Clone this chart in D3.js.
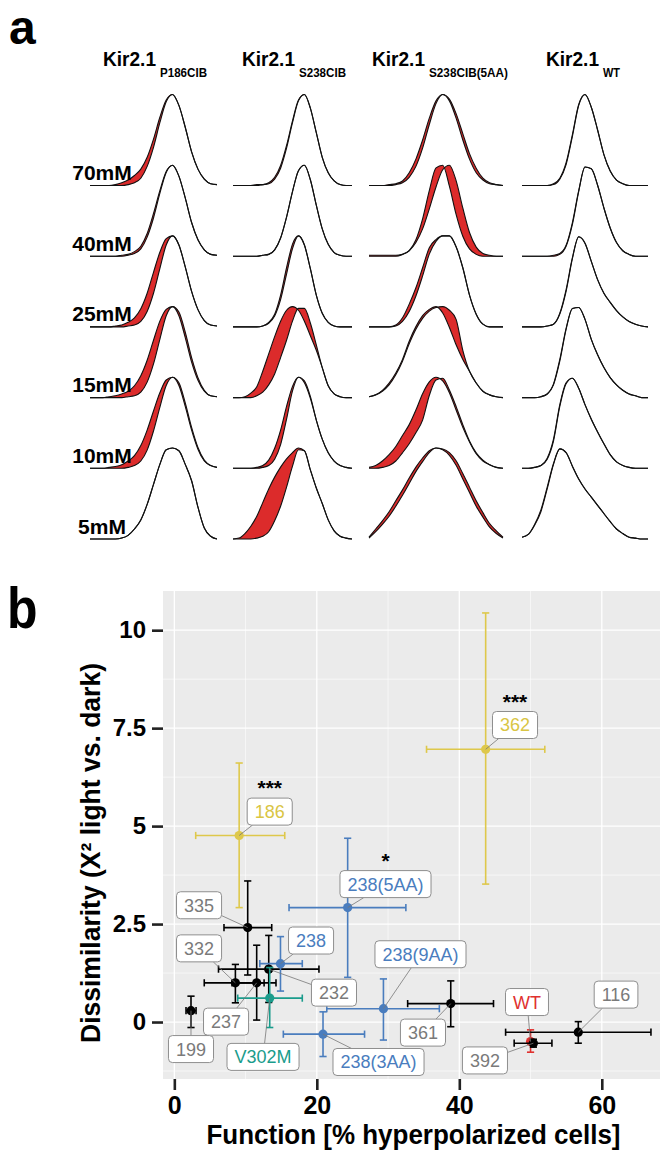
<!DOCTYPE html>
<html><head><meta charset="utf-8">
<script src="https://cdn.jsdelivr.net/npm/d3@7"></script>
<style>body{margin:0;background:#fff}svg{display:block}</style>
</head><body>
<svg id="chart" width="662" height="1156"></svg>
<script>
// ---------------- DATA: panel a (ridgeline densities, % of max height) ----------------
const constructs = ["P186CIB", "S238CIB", "S238CIB(5AA)", "WT"];
const concentrations = ["70mM", "40mM", "25mM", "15mM", "10mM", "5mM"];
const densityGrid = [0,1,2,3,4,5,6,7,8,9,10,11,12,13,14,15,16,17,18,19,20];

const p186Dark = [
  [0,0,0,0,0,0,1,3,8,21,42,69,92,100,88,64,37,18,7,2,1],
  [0,0,0,0,0,0,1,3,8,21,42,69,92,100,88,64,37,18,7,2,1],
  [0,0,0,0,0,0,1,2,6,17,37,64,90,100,90,66,39,19,7,2,1],
  [0,0,0,0,0,0,1,2,6,17,37,64,90,100,90,66,39,19,7,2,1],
  [0,0,0,0,0,0,1,3,8,20,41,67,91,100,91,68,42,21,8,3,1],
  [0,0,0,0,0,1,4,11,21,38,60,82,98,100,97,82,64,35,12,3,0]
];
const p186Light = [
  [0,0,0,0,1,3,6,11,18,31,51,75,94,100,88,64,37,18,7,2,1],
  [0,0,0,0,0,1,2,5,11,25,47,72,93,100,88,64,37,18,7,2,1],
  [0,0,0,0,1,2,5,10,20,37,60,82,97,100,90,66,39,19,7,2,1],
  [0,0,0,1,2,4,7,13,24,41,63,84,97,100,94,72,44,22,8,2,1],
  [0,0,0,1,2,4,8,14,25,42,63,83,97,100,94,72,45,23,9,3,1],
  [0,0,0,0,0,1,4,11,21,38,60,82,98,100,97,82,64,35,12,3,0]
];
const s238Dark = [
  [0,0,0,0,0,1,2,7,19,41,69,93,100,85,58,31,14,5,1,0,0],
  [0,0,0,0,0,1,2,7,20,43,71,94,100,84,56,30,13,4,1,0,0],
  [0,0,0,0,0,1,4,12,30,58,86,100,90,64,35,15,5,1,0,0,0],
  [0,0,0,0,2,6,14,26,44,63,84,98,98,82,58,33,13,4,1,0,0],
  [0,0,0,0,0,1,3,10,26,54,85,100,94,77,53,32,17,8,3,1,0],
  [0,0,0,0,1,3,8,20,36,57,80,98,97,76,56,39,21,9,3,1,0]
];
const s238Light = [
  [0,0,0,0,1,1,3,9,22,44,71,94,100,85,58,31,14,5,1,0,0],
  [0,0,0,0,0,1,2,7,20,43,71,94,100,84,56,30,13,4,1,0,0],
  [0,0,0,0,0,1,5,14,35,65,91,100,90,64,35,15,5,1,0,0,0],
  [0,0,1,5,12,29,48,67,84,96,100,96,84,68,52,33,13,4,1,0,0],
  [0,0,0,0,1,3,9,22,42,68,90,100,96,79,53,32,17,8,3,1,0],
  [0,1,6,14,25,40,55,68,79,88,95,100,97,76,56,39,21,9,3,1,0]
];
const s238aaDark = [
  [0,0,0,0,1,3,9,21,41,67,90,100,93,74,50,29,14,6,2,1,0],
  [1,1,1,1,1,2,6,18,41,72,97,100,77,46,22,8,2,0,0,0,0],
  [0,0,0,0,1,6,17,34,56,80,94,100,100,88,65,35,14,3,0,0,0],
  [1,3,8,16,27,42,62,78,90,97,100,93,77,58,42,29,16,7,3,1,0],
  [0,0,1,3,8,17,27,39,53,80,97,99,86,68,48,30,17,9,4,1,0],
  [1,8,16,25,36,48,61,74,85,95,100,98,92,81,66,51,36,24,13,6,1]
];
const s238aaLight = [
  [0,0,0,1,2,5,14,29,50,74,93,100,95,79,57,35,19,8,3,1,0],
  [0,0,0,0,0,2,6,15,30,52,76,95,100,83,53,26,10,3,1,0,0],
  [0,0,0,0,2,10,25,43,65,87,96,100,100,88,65,35,14,3,0,0,0],
  [1,3,7,14,25,40,59,75,87,95,99,100,96,86,52,29,16,7,3,1,0],
  [1,3,8,15,24,36,48,64,82,95,100,96,83,64,45,29,16,8,4,1,0],
  [2,11,20,30,42,54,67,79,89,97,100,99,95,86,72,57,42,29,17,9,2]
];
const wtDark = [
  [0,0,0,0,0,1,7,23,54,88,100,86,61,34,16,6,2,0,0,0,0],
  [0,0,0,0,0,0,2,11,35,71,98,96,78,53,31,15,6,2,0,0,0],
  [0,0,0,0,1,3,14,39,75,99,92,72,52,37,27,18,11,6,3,1,0],
  [0,0,0,1,4,14,40,75,98,99,86,64,47,33,22,14,8,4,2,0,0],
  [0,0,1,3,10,30,68,93,99,88,70,54,40,27,15,7,3,1,0,0,0],
  [2,5,15,30,55,82,99,95,80,66,55,46,37,28,19,11,6,2,1,0,0]
];
const wtLight = [
  [0,0,0,0,0,2,8,25,56,89,100,86,61,34,16,6,2,0,0,0,0],
  [0,0,0,0,0,1,3,12,37,72,98,96,78,53,31,15,6,2,0,0,0],
  [0,0,0,0,1,3,15,41,76,99,92,72,52,37,27,18,11,6,3,1,0],
  [0,0,0,1,4,15,42,76,98,99,86,64,47,33,22,14,8,4,2,0,0],
  [0,0,1,3,11,32,70,94,99,88,70,54,40,27,15,7,3,1,0,0,0],
  [2,5,16,32,57,83,99,95,80,66,55,46,37,28,19,11,6,2,1,0,0]
];

// ---------------- DATA: panel b ----------------
const mutants  = ["186","362","335","232","238","332","237","V302M","199","238(5AA)","238(9AA)","238(3AA)","361","WT","392","116"];
const mutantGroup = ["sig","sig","other","other","s238","other","other","v302m","other","s238","s238","s238","other","wt","other","other"];
const funcMean = [9.1, 43.7, 10.3, 13.25, 14.9, 8.57, 11.56, 13.39, 2.34, 24.33, 29.35, 20.87, 38.8, 50.0, 50.4, 56.7];
const funcLow  = [3.0, 35.4, 6.97, 6.2, 12.0, 4.2, 8.1, 8.9, 1.64, 16.1, 21.4, 15.3, 32.75, null, 47.7, 46.5];
const funcHigh = [15.5, 52.0, 13.67, 20.3, 17.96, 12.6, 14.27, 17.96, 3.05, 32.5, 37.2, 26.7, 44.8, null, 53.0, 66.9];
const disMean  = [4.76, 6.96, 2.41, 1.35, 1.49, 1.0, 1.0, 0.61, 0.29, 2.92, 0.34, -0.31, 0.47, -0.5, -0.54, -0.26];
const disLow   = [2.92, 3.52, 1.2, 0.5, 0.79, 0.49, 0.05, -0.14, -0.14, 1.14, -0.46, -0.88, -0.12, -0.77, -0.64, -0.54];
const disHigh  = [6.61, 10.44, 3.6, 2.21, 2.18, 1.47, 1.96, 1.39, 0.66, 4.69, 1.1, 0.26, 1.05, -0.2, -0.44, 0.01];
const significance = ["***","***","","","","","","","","*","","","","","",""];
const xTickValues = [0, 20, 40, 60];
const xTickLabels = ["0", "20", "40", "60"];
const yTickValues = [0, 2.5, 5, 7.5, 10];
const yTickLabels = ["0", "2.5", "5", "7.5", "10"];

// ---------------- LAYOUT / STYLE ----------------
const labelAtX = [13.39, 47.82, 3.47, 22.41, 19.19, 3.47, 7.26, 12.45, 2.34, 29.64, 34.55, 28.66, 34.9, 49.5, 43.6, 62.0];
const labelAtY = [5.37, 7.58, 2.98, 0.75, 2.08, 1.88, 0.01, -0.89, -0.69, 3.52, 1.73, -1.02, -0.27, 0.51, -0.98, 0.70];
const groupColor = {sig:"#DEC84B", s238:"#4A7DBE", other:"#000000", v302m:"#1A9C8C", wt:"#E0312F"};
const labelColor = {sig:"#D9C544", s238:"#4A7DBE", other:"#7A7A7A", v302m:"#1A9C8C", wt:"#E0312F"};
const BOLD = '"Liberation Sans",Arial,Helvetica,sans-serif';
const SANS = '"Liberation Sans",Arial,Helvetica,sans-serif';
const RED = "#DC2B2B";

const svg = d3.select("#chart");

// ================= PANEL a =================
svg.append("text").attr("x", 9).attr("y", 44).text("a")
  .attr("font-family", BOLD).attr("font-weight", "bold").attr("font-size", 48);

const colRanges = [[90,217],[233,352],[369,503],[522,648]];
const headStart = [103, 242, 372, 546];
const subWidth = [47, 47, 79, 17];
const darkCols = [p186Dark, s238Dark, s238aaDark, wtDark];
const lightCols = [p186Light, s238Light, s238aaLight, wtLight];
const rowY = d3.scalePoint().domain(concentrations).range([185.5, 539]);
const hScale = d3.scaleLinear().domain([0, 100]).range([0, 91]);

constructs.forEach((c, ci) => {
  svg.append("text").attr("x", headStart[ci]).attr("y", 66).text("Kir2.1")
    .attr("font-family", BOLD).attr("font-weight", "bold").attr("font-size", 19.5)
    .attr("textLength", 53).attr("lengthAdjust", "spacingAndGlyphs");
  svg.append("text").attr("x", headStart[ci] + 57).attr("y", 77).text(c)
    .attr("font-family", BOLD).attr("font-weight", "bold").attr("font-size", 12)
    .attr("textLength", subWidth[ci]).attr("lengthAdjust", "spacingAndGlyphs");
});

const gA = svg.append("g");
constructs.forEach((c, ci) => {
  const xs = d3.scaleLinear().domain(d3.extent(densityGrid)).range(colRanges[ci]);
  concentrations.forEach((conc, ri) => {
    const base = rowY(conc);
    const D = darkCols[ci][ri], L = lightCols[ci][ri];
    const pts = densityGrid.map((g, i) => ({g, d: D[i], l: L[i]}));
    const g = gA.append("g");
    g.append("path").datum(pts)
      .attr("d", d3.area().curve(d3.curveMonotoneX).x(p => xs(p.g))
        .y0(base).y1(p => base - hScale(Math.max(p.d, p.l))))
      .attr("fill", "#fff");
    g.append("path").datum(pts)
      .attr("d", d3.area().curve(d3.curveMonotoneX).x(p => xs(p.g))
        .y0(p => base - hScale(p.d)).y1(p => base - hScale(p.l)))
      .attr("fill", RED);
    ["d", "l"].forEach(k => {
      g.append("path").datum(pts)
        .attr("d", d3.line().curve(d3.curveMonotoneX).x(p => xs(p.g)).y(p => base - hScale(p[k])))
        .attr("fill", "none").attr("stroke", "#111").attr("stroke-width", 1.1);
    });
  });
});
concentrations.forEach(conc => {
  svg.append("text").attr("x", 102).attr("y", rowY(conc) - 5.5).text(conc)
    .attr("text-anchor", "middle")
    .attr("font-family", BOLD).attr("font-weight", "bold").attr("font-size", 21);
});

// ================= PANEL b =================
svg.append("text").attr("x", 7).attr("y", 628).text("b")
  .attr("font-family", BOLD).attr("font-weight", "bold").attr("font-size", 50)
  .attr("transform", "translate(0,-94) scale(1,1.15)");

const pL = 163, pR = 660, pT = 591, pB = 1079;
const x = d3.scaleLinear().domain([-1.59, 68.17]).range([pL, pR]);
const y = d3.scaleLinear().domain([-1.454, 11.0]).range([pB, pT]);

svg.append("rect").attr("x", pL).attr("y", pT).attr("width", pR - pL).attr("height", pB - pT)
  .attr("fill", "#EBEBEB");
const grid = svg.append("g");
const minorX = d3.pairs(xTickValues).map(p => (p[0] + p[1]) / 2);
const minorY = [yTickValues[0] - 1.25].concat(d3.pairs(yTickValues).map(p => (p[0] + p[1]) / 2));
minorX.forEach(v => grid.append("line").attr("x1", x(v)).attr("x2", x(v)).attr("y1", pT).attr("y2", pB)
  .attr("stroke", "#fff").attr("stroke-width", 0.6));
minorY.forEach(v => grid.append("line").attr("y1", y(v)).attr("y2", y(v)).attr("x1", pL).attr("x2", pR)
  .attr("stroke", "#fff").attr("stroke-width", 0.6));
xTickValues.forEach(v => grid.append("line").attr("x1", x(v)).attr("x2", x(v)).attr("y1", pT).attr("y2", pB)
  .attr("stroke", "#fff").attr("stroke-width", 1.3));
yTickValues.forEach(v => grid.append("line").attr("y1", y(v)).attr("y2", y(v)).attr("x1", pL).attr("x2", pR)
  .attr("stroke", "#fff").attr("stroke-width", 1.3));

const yAxis = svg.append("g").attr("transform", `translate(${pL},0)`)
  .call(d3.axisLeft(y).tickValues(yTickValues).tickFormat((d, i) => yTickLabels[i]).tickSize(11).tickPadding(6));
const xAxis = svg.append("g").attr("transform", `translate(0,${pB})`)
  .call(d3.axisBottom(x).tickValues(xTickValues).tickFormat((d, i) => xTickLabels[i]).tickSize(11).tickPadding(6));
[yAxis, xAxis].forEach(a => {
  a.select(".domain").remove();
  a.selectAll(".tick line").attr("stroke", "#222").attr("stroke-width", 2.6);
  a.selectAll(".tick text").attr("font-family", SANS).attr("font-weight", "bold").attr("fill", "#000");
});
yAxis.selectAll(".tick text").attr("font-size", 24);
xAxis.selectAll(".tick text").attr("font-size", 25);

svg.append("text").attr("x", (pL + pR) / 2 + 2).attr("y", 1144).text("Function [% hyperpolarized cells]")
  .attr("text-anchor", "middle").attr("font-family", BOLD).attr("font-weight", "bold").attr("font-size", 27)
  .attr("textLength", 414).attr("lengthAdjust", "spacingAndGlyphs");
svg.append("text").attr("transform", "translate(100,853) rotate(-90)").text("Dissimilarity (X\u00B2 light vs. dark)")
  .attr("text-anchor", "middle").attr("font-family", BOLD).attr("font-weight", "bold").attr("font-size", 27)
  .attr("textLength", 380).attr("lengthAdjust", "spacingAndGlyphs");

// error bars + points
const marks = svg.append("g");
const cap = 3.6;
mutants.forEach((m, i) => {
  const col = groupColor[mutantGroup[i]];
  const g = marks.append("g").attr("stroke", col).attr("stroke-width", 1.6);
  const px = x(funcMean[i]), py = y(disMean[i]);
  g.append("line").attr("x1", px).attr("x2", px).attr("y1", y(disLow[i])).attr("y2", y(disHigh[i]));
  [disLow[i], disHigh[i]].forEach(v => g.append("line").attr("x1", px - cap).attr("x2", px + cap).attr("y1", y(v)).attr("y2", y(v)));
  if (funcLow[i] !== null) {
    g.append("line").attr("y1", py).attr("y2", py).attr("x1", x(funcLow[i])).attr("x2", x(funcHigh[i]));
    [funcLow[i], funcHigh[i]].forEach(v => g.append("line").attr("y1", py - cap).attr("y2", py + cap).attr("x1", x(v)).attr("x2", x(v)));
  }
  marks.append("circle").attr("cx", px).attr("cy", py).attr("r", 4.6).attr("fill", col);
});

// labels (repel-style boxes)
const segs = svg.append("g"), labs = svg.append("g");
mutants.forEach((m, i) => {
  const cx = x(labelAtX[i]), cy = y(labelAtY[i]);
  const g = labs.append("g");
  const rect = g.append("rect");
  const t = g.append("text").attr("x", cx).attr("y", cy).attr("dy", "0.36em").text(m)
    .attr("text-anchor", "middle").attr("font-family", SANS).attr("font-size", 18)
    .attr("fill", labelColor[mutantGroup[i]]);
  const w = t.node().getComputedTextLength() + 15, h = 27;
  rect.attr("x", cx - w / 2).attr("y", cy - h / 2).attr("width", w).attr("height", h).attr("rx", 4)
    .attr("fill", "#fff").attr("stroke", "#8E8E8E").attr("stroke-width", 1);
  const px = x(funcMean[i]), py = y(disMean[i]);
  const dx = cx - px, dy = cy - py;
  const tx2 = dx !== 0 ? (Math.abs(dx) - w / 2) / Math.abs(dx) : -Infinity;
  const ty2 = dy !== 0 ? (Math.abs(dy) - h / 2) / Math.abs(dy) : -Infinity;
  const tEnter = Math.max(tx2, ty2);
  if (tEnter > 0.02) {
    segs.append("line").attr("x1", px).attr("y1", py).attr("x2", px + dx * tEnter).attr("y2", py + dy * tEnter)
      .attr("stroke", "#777").attr("stroke-width", 0.8);
  }
  if (significance[i]) {
    labs.append("text").attr("x", cx).attr("y", cy - h / 2 - 3).text(significance[i])
      .attr("text-anchor", "middle").attr("font-family", SANS).attr("font-weight", "bold")
      .attr("font-size", 21).attr("fill", "#000");
  }
});
</script>
</body></html>
